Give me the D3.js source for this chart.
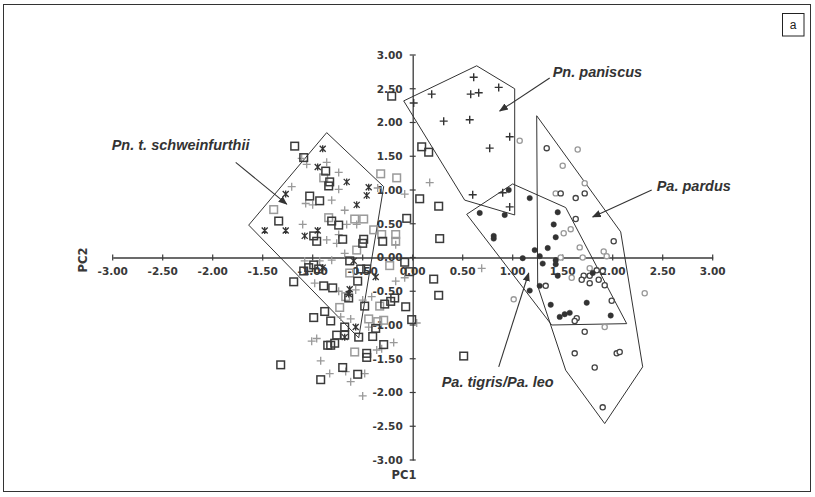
<!DOCTYPE html>
<html>
<head>
<meta charset="utf-8">
<script src="https://cdnjs.cloudflare.com/ajax/libs/d3/7.8.5/d3.min.js"></script>
<style>
  html, body { margin: 0; padding: 0; background: #fff; }
  svg { display: block; }
  .tick-label { font-family: "DejaVu Sans", sans-serif; font-weight: bold; font-size: 10.5px; fill: #383838; }
  .axis-title { font-family: "DejaVu Sans", sans-serif; font-weight: bold; font-size: 11.5px; fill: #383838; }
  .note { font-family: "Liberation Sans", Arial, sans-serif; font-weight: bold; font-style: italic; font-size: 14.5px; fill: #333; }
</style>
</head>
<body>
<div id="chart"></div>
<script>
// valeurs (PC1, PC2)
const xTicks = [-3, -2.5, -2, -1.5, -1, -0.5, 0, 0.5, 1, 1.5, 2, 2.5, 3];
const yTicks = [-3, -2.5, -2, -1.5, -1, -0.5, 0, 0.5, 1, 1.5, 2, 2.5, 3];

const darkSquares = [
  [-1.18, 1.65], [-1.09, 1.48], [-0.87, 1.28], [-0.83, 1.12], [-0.84, 1.06], [-1.03, 0.91],
  [-0.93, 0.84], [-1.34, 0.54], [-0.81, 0.54], [-0.74, 0.48], [-0.99, 0.32], [-0.96, 0.24],
  [-0.70, 0.27], [-0.49, 0.27], [-0.50, 0.21], [-0.30, 0.24], [-0.06, 0.58], [0.09, 1.64],
  [0.16, 1.56], [0.07, 0.87], [0.26, 0.76], [0.27, 0.28], [-0.21, 2.39], [-0.99, -0.11],
  [-1.09, -0.20], [-1.04, -0.15], [-0.94, -0.17], [-0.63, -0.05], [-0.55, -0.35], [-0.52, -0.17],
  [-0.46, -0.17], [-0.08, -0.07], [-0.03, -0.21], [0.21, -0.32], [0.26, -0.56], [-0.07, -0.73],
  [-0.01, -0.92], [0.51, -1.46], [-1.19, -0.36], [-0.89, -0.42], [-0.80, -0.45], [-0.64, -0.60],
  [-0.48, -0.72], [-0.28, -0.69], [-0.22, -0.65], [-0.18, -0.60], [-0.88, -0.80], [-0.99, -0.89],
  [-0.82, -0.94], [-0.37, -1.05], [-0.40, -1.17], [-0.68, -1.03], [-0.76, -1.15], [-0.68, -1.15],
  [-0.54, -1.18], [-0.78, -1.27], [-0.82, -1.30], [-0.85, -1.30], [-0.29, -1.29], [-0.46, -1.42],
  [-0.46, -1.48], [-1.32, -1.59], [-0.70, -1.63], [-0.55, -1.73], [-0.92, -1.81]
];
const graySquares = [
  [-0.89, 1.18], [-0.32, 1.24], [-0.16, 1.18], [-1.39, 0.71], [-0.84, 0.59], [-0.58, 0.57],
  [-0.49, 0.57], [-0.56, 0.11], [-0.39, 0.41], [-0.31, 0.34], [-0.17, 0.34], [-0.17, 0.24],
  [-0.63, -0.23], [-0.23, -0.12], [-0.73, -0.74], [-0.44, -0.91], [-0.35, -0.95], [-0.29, -0.93],
  [-0.58, -1.40], [-0.67, -0.58], [-0.33, -0.72]
];
const grayPlus = [
  [-1.11, 1.47], [-1.06, 1.38], [-0.86, 1.41], [-0.74, 1.26], [-1.21, 1.05], [-0.74, 1.01],
  [-0.35, 1.03], [-0.08, 0.94], [-1.07, 0.80], [-1.00, 0.78], [-0.81, 0.85], [-0.68, 0.70],
  [-1.10, 0.49], [-0.66, 0.49], [-0.56, 0.49], [-0.86, 0.26], [-0.76, 0.21], [-0.74, 0.34],
  [-0.68, 0.06], [-0.17, 0.19], [0.17, 1.11], [-1.08, -0.05], [-0.93, -0.05], [-0.81, -0.04],
  [-0.17, -0.35], [-0.08, -0.30], [-0.98, -0.38], [-0.74, -0.50], [-0.57, -0.48], [-0.50, -0.63],
  [-0.41, -0.58], [-0.72, -0.88], [-0.62, -0.91], [-0.44, -1.03], [-1.01, -1.24], [-0.96, -1.20],
  [-0.36, -1.37], [-0.31, -1.35], [-0.19, -1.26], [0.04, -0.97], [-0.92, -1.53], [-0.67, -1.69],
  [-0.48, -1.72], [-0.83, -1.72], [-0.62, -1.84], [-0.50, -2.05], [0.69, -0.16]
];
const schweinfurthii = [
  [-0.90, 1.61], [-0.95, 1.34], [-0.66, 1.12], [-0.44, 1.04], [-0.46, 0.92], [-1.27, 0.94],
  [-0.56, 0.78], [-1.48, 0.40], [-1.27, 0.40], [-1.08, 0.32], [-0.95, 0.40], [-0.90, -0.15],
  [-0.59, -0.05], [-0.37, -0.29], [-0.63, -0.47], [-0.64, -0.54], [-0.57, -1.03], [-0.68, -1.18]
];
const paniscus = [
  [0.01, 2.29], [0.19, 2.42], [0.61, 2.67], [0.58, 2.42], [0.66, 2.44], [0.86, 2.52],
  [0.31, 2.02], [0.57, 2.04], [0.97, 1.79], [0.77, 1.62], [0.60, 0.93], [0.90, 0.96], [0.97, 0.75]
];
const tigrisLeo = [
  [0.96, 1.00], [1.17, 0.88], [0.67, 0.66], [0.92, 0.63], [0.81, 0.32], [0.81, 0.28],
  [1.45, 0.67], [1.41, 0.49], [1.43, 0.30], [1.35, 0.14], [1.22, 0.11], [1.27, 0.02],
  [1.10, -0.01], [1.30, -0.09], [1.43, -0.04], [1.43, -0.10], [1.45, -0.27], [1.80, -0.23],
  [1.27, -0.42], [1.17, -0.49], [1.38, -0.70], [1.74, -0.67], [1.47, -0.88], [1.52, -0.84],
  [1.57, -0.82], [1.98, -0.86]
];
const pardusGray = [
  [1.07, 1.73], [1.65, 1.60], [1.50, 1.36], [1.72, 1.10], [1.43, 0.95], [1.58, 0.42],
  [1.51, 0.36], [1.67, 0.15], [1.91, 0.09], [1.94, 0.02], [1.70, 0.00], [1.48, 0.00],
  [1.01, -0.62], [1.92, -1.03], [2.32, -0.53], [1.59, -0.30], [1.77, -0.16]
];
const pardusDark = [
  [1.34, 1.62], [1.48, 0.95], [1.63, 0.88], [1.72, 0.95], [1.63, 0.57], [2.01, 0.24],
  [1.84, -0.19], [1.90, -0.20], [1.77, -0.27], [1.71, -0.27], [1.86, -0.33], [1.77, -0.38],
  [1.69, -0.33], [1.92, -0.41], [1.33, -0.42], [1.99, -0.64], [1.64, -0.90], [1.62, -0.94],
  [1.72, -1.10], [1.62, -1.42], [2.04, -1.42], [2.07, -1.40], [1.82, -1.63], [1.90, -2.22]
];

// contours tracés à la main sur la figure
const hullSchweinfurthii = [[-0.86, 1.85], [-0.29, 1.05], [-0.54, -1.19], [-1.64, 0.48]];
const hullPaniscus = [[-0.09, 2.32], [0.64, 2.84], [1.02, 2.50], [1.02, 0.63], [0.52, 0.85]];
const hullTigrisLeo = [[1.00, 1.09], [1.53, 0.74], [2.14, -0.98], [1.39, -1.00], [0.54, 0.64]];
const hullPardus = [[1.24, 2.10], [2.08, 0.38], [2.30, -1.62], [1.92, -2.46], [1.53, -1.67], [1.25, -0.42]];

const noteLabels = ['Pn. t. schweinfurthii', 'Pn. paniscus', 'Pa. pardus', 'Pa. tigris/Pa. leo'];
const noteAnchors = [[-3.01, 1.59], [1.40, 2.67], [2.44, 0.99], [0.29, -1.92]];
const noteFrom = [[-1.77, 1.41], [1.37, 2.66], [2.39, 1.00], [0.86, -1.62]];
const noteTo = [[-1.26, 0.79], [0.87, 2.17], [1.80, 0.60], [1.16, -0.23]];

const W = 815, H = 497;
const svg = d3.select('#chart').append('svg').attr('width', W).attr('height', H);

const x = d3.scaleLinear().domain([-3, 3]).range([112.7, 712.7]);
const y = d3.scaleLinear().domain([-3, 3]).range([460, 55]);
const fmt = d3.formatLocale({ decimal: '.', thousands: ',', grouping: [3], currency: ['', ''], minus: '-' }).format('.2f');

// cadre + "a"
svg.append('rect').attr('x', 3.5).attr('y', 4.5).attr('width', 807).attr('height', 487)
  .attr('fill', 'none').attr('stroke', '#333').attr('stroke-width', 1);
svg.append('rect').attr('x', 782.5).attr('y', 13.5).attr('width', 21.5).attr('height', 22.5)
  .attr('fill', 'none').attr('stroke', '#222').attr('stroke-width', 1);
svg.append('text').attr('x', 793.2).attr('y', 29).attr('text-anchor', 'middle')
  .style('font-family', '"Liberation Sans", Arial, sans-serif').style('font-size', '12px').style('fill', '#222')
  .text('a');

// axes croisés à l'origine
const axisColor = '#3a3a3a';
const xAxis = svg.append('g').attr('transform', `translate(0,${y(0)})`)
  .call(d3.axisBottom(x).tickValues(xTicks).tickSize(0).tickFormat(''));
xAxis.select('.domain').attr('stroke', axisColor).attr('stroke-width', 1.3);
svg.append('g').selectAll('line').data(xTicks).join('line')
  .attr('x1', d => x(d)).attr('x2', d => x(d))
  .attr('y1', y(0) - 3).attr('y2', y(0) + 3)
  .attr('stroke', axisColor).attr('stroke-width', 1.2);
svg.append('g').selectAll('text').data(xTicks).join('text')
  .attr('class', 'tick-label')
  .attr('x', d => x(d)).attr('y', y(0) + 17.5)
  .attr('text-anchor', 'middle')
  .text(d => fmt(d));

const yAxis = svg.append('g').attr('transform', `translate(${x(0)},0)`)
  .call(d3.axisLeft(y).tickValues(yTicks).tickSize(0).tickFormat(''));
yAxis.select('.domain').attr('stroke', axisColor).attr('stroke-width', 1.3);
svg.append('g').selectAll('line').data(yTicks).join('line')
  .attr('x1', x(0) - 3).attr('x2', x(0) + 3)
  .attr('y1', d => y(d)).attr('y2', d => y(d))
  .attr('stroke', axisColor).attr('stroke-width', 1.2);
svg.append('g').selectAll('text').data(yTicks).join('text')
  .attr('class', 'tick-label')
  .attr('x', x(0) - 10).attr('y', d => y(d)).attr('dy', '0.36em')
  .attr('text-anchor', 'end')
  .text(d => fmt(d));

svg.append('text').attr('class', 'axis-title').attr('x', 404).attr('y', 479)
  .attr('text-anchor', 'middle').text('PC1');
svg.append('text').attr('class', 'axis-title')
  .attr('transform', 'translate(87,260) rotate(-90)')
  .attr('text-anchor', 'middle').text('PC2');

// contours
const line = d3.line().x(d => x(d[0])).y(d => y(d[1])).curve(d3.curveLinearClosed);
svg.append('g').selectAll('path')
  .data([hullSchweinfurthii, hullPaniscus, hullTigrisLeo, hullPardus]).join('path')
  .attr('d', line).attr('fill', 'none').attr('stroke', '#333').attr('stroke-width', 1);

// marqueurs
const pts = svg.append('g');
function squares(data, color) {
  pts.append('g').selectAll('rect').data(data).join('rect')
    .attr('x', d => x(d[0]) - 3.8).attr('y', d => y(d[1]) - 3.8)
    .attr('width', 7.6).attr('height', 7.6)
    .attr('fill', 'none').attr('stroke', color).attr('stroke-width', 1.5);
}
function pluses(data, color, w) {
  pts.append('g').selectAll('path').data(data).join('path')
    .attr('d', d => { const cx = x(d[0]), cy = y(d[1]);
      return `M${cx - 4},${cy}H${cx + 4}M${cx},${cy - 4}V${cy + 4}`; })
    .attr('fill', 'none').attr('stroke', color).attr('stroke-width', w);
}
function stars(data, color) {
  pts.append('g').selectAll('path').data(data).join('path')
    .attr('d', d => { const cx = x(d[0]), cy = y(d[1]), s = 3;
      return `M${cx - s},${cy - s}L${cx + s},${cy + s}M${cx - s},${cy + s}L${cx + s},${cy - s}` +
             `M${cx},${cy - s - 0.5}V${cy + s + 0.5}`; })
    .attr('fill', 'none').attr('stroke', color).attr('stroke-width', 1.3);
}
function circles(data, color, filled) {
  pts.append('g').selectAll('circle').data(data).join('circle')
    .attr('cx', d => x(d[0])).attr('cy', d => y(d[1]))
    .attr('r', filled ? 2.7 : 2.6)
    .attr('fill', filled ? color : '#fff')
    .attr('stroke', color).attr('stroke-width', filled ? 0.5 : 1.3);
}

pluses(grayPlus, '#999', 1.3);
squares(graySquares, '#9a9a9a');
squares(darkSquares, '#3a3a3a');
stars(schweinfurthii, '#333');
pluses(paniscus, '#333', 1.4);
circles(pardusGray, '#999', false);
circles(pardusDark, '#444', false);
circles(tigrisLeo, '#333', true);

// flèches + étiquettes
svg.append('defs').append('marker')
  .attr('id', 'head').attr('viewBox', '0 0 10 10').attr('refX', 9).attr('refY', 5)
  .attr('markerWidth', 9).attr('markerHeight', 9).attr('markerUnits', 'userSpaceOnUse')
  .attr('orient', 'auto')
  .append('path').attr('d', 'M0,1L10,5L0,9Z').attr('fill', '#333');

const notes = svg.append('g');
noteLabels.forEach((t, i) => {
  notes.append('line')
    .attr('x1', x(noteFrom[i][0])).attr('y1', y(noteFrom[i][1]))
    .attr('x2', x(noteTo[i][0])).attr('y2', y(noteTo[i][1]))
    .attr('stroke', '#333').attr('stroke-width', 1.1)
    .attr('marker-end', 'url(#head)');
  notes.append('text').attr('class', 'note')
    .attr('x', x(noteAnchors[i][0])).attr('y', y(noteAnchors[i][1]))
    .text(t);
});
</script>
</body>
</html>
